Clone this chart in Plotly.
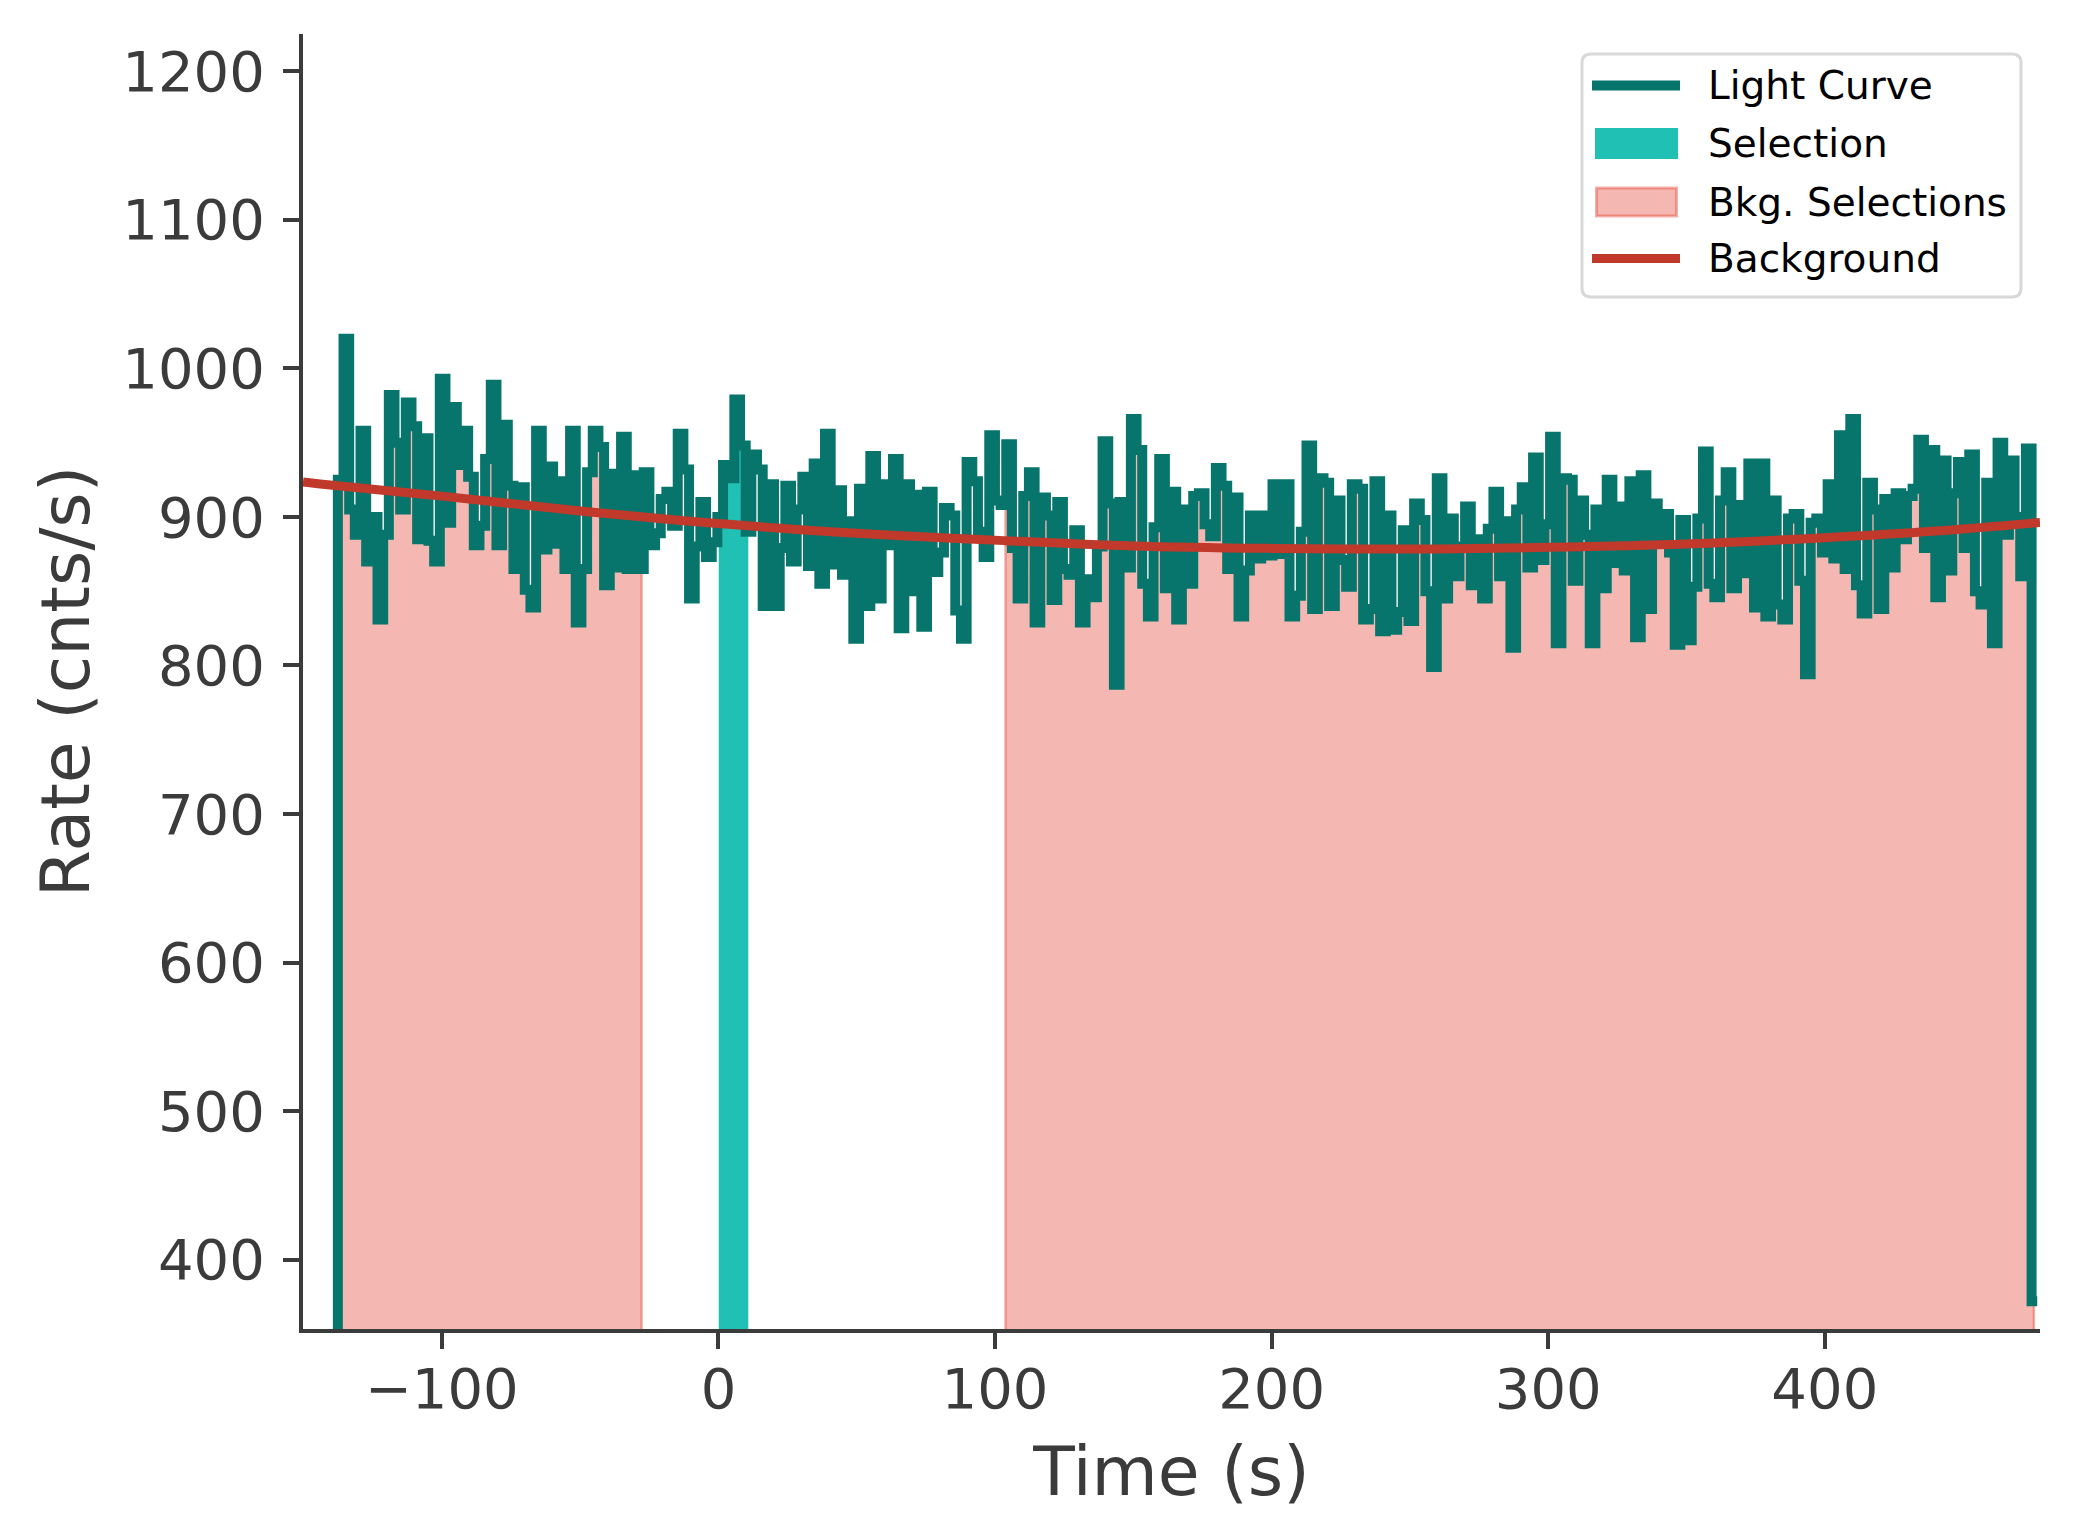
import plotly.graph_objects as go

# ---------------- data ----------------
t_start = -139.648      # start time of the first (partial) bin, s
bin_width = 2.048       # s

rates = [
    0,
    # -137.6 ... -20.8 s
    925, 1020, 905, 888, 958, 870, 900, 831, 888, 982,
    950, 905, 977, 961, 885, 953, 884, 870, 993, 896,
    974, 935, 958, 927, 881, 894, 939, 989, 881, 962,
    921, 865, 920, 851, 839, 958, 878, 934, 882, 924,
    865, 958, 829, 865, 930, 958, 947, 854, 929, 866,
    954, 865, 928, 865, 930, 881, 889, 912,
    # -19.1 ... 100 s
    917, 894, 956, 932, 845, 880, 910, 873, 883, 900,
    935, 926, 979, 948, 890, 942, 932, 840, 922, 840,
    879, 921, 870, 905, 927, 867, 936, 855, 956, 868,
    918, 861, 897, 818, 919, 840, 941, 845, 922, 881,
    939, 825, 922, 850, 915, 826, 917, 863, 876, 906,
    901, 837, 818, 937, 924, 890, 873, 955, 911,
    908,
    # 104 ... 225 s
    949, 879, 845, 914, 930, 829, 913, 901, 844, 910,
    865, 861, 891, 829, 858, 846, 880, 951, 909, 787,
    910, 866, 966, 945, 855, 833, 893, 939, 852, 917,
    831, 905, 855, 914, 916, 895, 887, 933, 921, 865,
    913, 833, 864, 901, 872, 901, 874, 922, 875, 922,
    833, 847, 890, 948, 838, 926, 923, 840, 911, 871,
    # 227 ... 348 s
    853, 922, 919, 831, 838, 924, 823, 901, 824, 836,
    891, 830, 909, 898, 850, 799, 926, 845, 899, 860,
    880, 907, 854, 885, 845, 892, 917, 860, 897, 812,
    905, 920, 866, 940, 871, 895, 954, 815, 926, 925,
    857, 911, 888, 815, 905, 852, 925, 869, 907, 864,
    924, 819, 928, 838, 909, 885, 902, 876, 814, 898,
    # 350 ... 476 s
    817, 853, 899, 944, 855, 846, 911, 930, 852, 908,
    862, 936, 839, 936, 833, 911, 841, 831, 899, 902,
    857, 794, 896, 899, 876, 922, 872, 955, 865, 966,
    854, 835, 923, 905, 838, 912, 866, 916, 885, 914,
    919, 952, 879, 945, 846, 938, 864, 916, 937, 879,
    942, 850, 841, 923, 815, 950, 888, 938, 900, 860,
    946, 372,
]

bkg_intervals = [(-137.6, -27.8), (103.8, 475.6)]
selection_interval = (0.2, 10.7)

# background model, sampled from the red curve
bkg_times = [-150.2, -144, -100, -50, -19.4, 0, 50, 103.7, 150, 200,
             226.6, 260, 300, 349.4, 400, 440, 477.8]
bkg_rates = [923.5, 922.2, 914, 904, 898.6, 895.5, 889, 884, 880.5, 878.8,
             878.4, 878.4, 879.5, 881.8, 886, 890.5, 896.3]

x_ticks = [-100, 0, 100, 200, 300, 400]
x_ticktext = ["\u2212100", "0", "100", "200", "300", "400"]
y_ticks = [400, 500, 600, 700, 800, 900, 1000, 1100, 1200]

legend_labels = ["Light Curve", "Selection", "Bkg. Selections", "Background"]

# ---------------- styles ----------------
LC_COLOR = "#07756b"
SEL_COLOR = "#20c0b5"
BKG_FILL = "rgba(231,76,60,0.4)"
BKG_EDGE = "rgba(231,76,60,0.45)"
BKG_LINE = "#c0392b"
AX_COLOR = "#3b3b3b"
FONT = "DejaVu Sans"

W, H = 2073, 1540
M_L, M_R, M_T, M_B = 303, 33, 34, 211
PW, PH = W - M_L - M_R, H - M_T - M_B

edges = [t_start + i * bin_width for i in range(len(rates) + 1)]
step_y = rates + [rates[-1]]


def rate_at(t):
    i = int((t - t_start) // bin_width)
    i = max(0, min(i, len(rates) - 1))
    return rates[i]


def fill_polygon(a, b):
    xs = [a, a]
    ys = [0, rate_at(a)]
    for i, e in enumerate(edges[:-1]):
        if a < e < b:
            xs.append(e)
            ys.append(rates[i])
    xs += [b, b]
    ys += [rate_at(b), 0]
    return xs, ys


fig = go.Figure()

for k, (a, b) in enumerate(bkg_intervals):
    xs, ys = fill_polygon(a, b)
    fig.add_trace(go.Scatter(
        x=xs, y=ys, mode="lines", fill="toself", fillcolor=BKG_FILL,
        line=dict(shape="hv", color=BKG_EDGE, width=2.5),
        name="Bkg. Selections", showlegend=False, hoverinfo="skip"))

xs, ys = fill_polygon(*selection_interval)
fig.add_trace(go.Scatter(
    x=xs, y=ys, mode="lines", fill="toself", fillcolor=SEL_COLOR,
    line=dict(shape="hv", color=SEL_COLOR, width=0.5),
    name="Selection", showlegend=False, hoverinfo="skip"))

fig.add_trace(go.Scatter(
    x=edges, y=step_y, mode="lines",
    line=dict(shape="hv", color=LC_COLOR, width=10),
    name="Light Curve", showlegend=False))

fig.add_trace(go.Scatter(
    x=bkg_times, y=bkg_rates, mode="lines",
    line=dict(shape="spline", smoothing=1.0, color=BKG_LINE, width=9),
    name="Background", showlegend=False))


# ---------------- legend (drawn as shapes + text) ----------------
def px(X):
    return (X - M_L) / PW


def py(Y):
    return (H - M_B - Y) / PH


def rounded_box(x0, y0, x1, y1, r):
    rx, ry = r / PW, r / PH
    X0, X1, Y0, Y1 = px(x0), px(x1), py(y1), py(y0)
    return (f"M {X0+rx},{Y0} L {X1-rx},{Y0} Q {X1},{Y0} {X1},{Y0+ry} "
            f"L {X1},{Y1-ry} Q {X1},{Y1} {X1-rx},{Y1} L {X0+rx},{Y1} "
            f"Q {X0},{Y1} {X0},{Y1-ry} L {X0},{Y0+ry} Q {X0},{Y0} {X0+rx},{Y0} Z")


row_y = [85.5, 143.5, 202, 258.5]
shapes = [
    dict(type="path", xref="paper", yref="paper", layer="above",
         path=rounded_box(1582, 54, 2021, 297, 9),
         fillcolor="rgba(255,255,255,0.85)", line=dict(color="#d8d8d8", width=3)),
    dict(type="line", xref="paper", yref="paper", layer="above",
         x0=px(1592), x1=px(1680), y0=py(row_y[0]), y1=py(row_y[0]),
         line=dict(color=LC_COLOR, width=10)),
    dict(type="rect", xref="paper", yref="paper", layer="above",
         x0=px(1595), x1=px(1678), y0=py(row_y[1] - 15.5), y1=py(row_y[1] + 15.5),
         fillcolor=SEL_COLOR, line=dict(width=0)),
    dict(type="rect", xref="paper", yref="paper", layer="above",
         x0=px(1596.5), x1=px(1676.5), y0=py(row_y[2] - 14), y1=py(row_y[2] + 14),
         fillcolor=BKG_FILL, line=dict(color=BKG_EDGE, width=3)),
    dict(type="line", xref="paper", yref="paper", layer="above",
         x0=px(1592), x1=px(1680), y0=py(row_y[3]), y1=py(row_y[3]),
         line=dict(color=BKG_LINE, width=9)),
]
annotations = [
    dict(xref="paper", yref="paper", x=px(1706), y=py(yy), text=lab,
         xanchor="left", yanchor="middle", showarrow=False,
         font=dict(family=FONT, size=39, color="black"))
    for lab, yy in zip(legend_labels, row_y)
]

axis_common = dict(
    showline=True, linecolor=AX_COLOR, linewidth=4, mirror=False,
    ticks="outside", ticklen=16, tickwidth=4, tickcolor=AX_COLOR,
    tickfont=dict(family=FONT, size=56, color=AX_COLOR),
    showgrid=False, zeroline=False,
)

fig.update_layout(
    width=W, height=H,
    margin=dict(l=M_L, r=M_R, t=M_T, b=M_B, autoexpand=False),
    paper_bgcolor="white", plot_bgcolor="white",
    font=dict(family=FONT, color=AX_COLOR),
    showlegend=False,
    shapes=shapes,
    annotations=annotations,
    xaxis=dict(
        range=[-150.2, 477.8], tickvals=x_ticks, ticktext=x_ticktext,
        title=dict(text="Time (s)", font=dict(family=FONT, size=68, color=AX_COLOR), standoff=28),
        ticklabelstandoff=-8,
        **axis_common),
    yaxis=dict(
        range=[353.3, 1225.1], tickvals=y_ticks,
        title=dict(text="Rate (cnts/s)", font=dict(family=FONT, size=68, color=AX_COLOR), standoff=11),
        ticklabelstandoff=7,
        **axis_common),
)

fig.write_html("out.html", config={"displayModeBar": False},
               post_script="document.body.style.margin='0px';")
